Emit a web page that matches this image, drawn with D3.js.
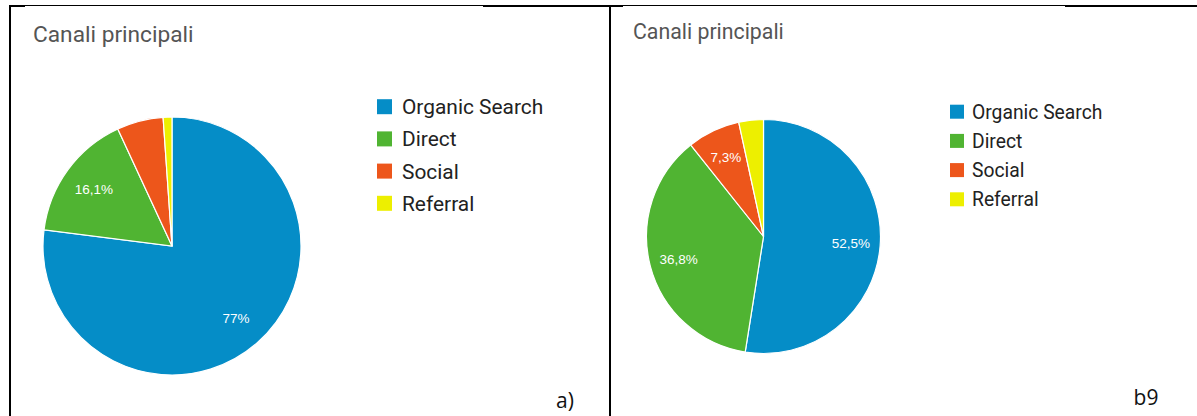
<!DOCTYPE html>
<html>
<head>
<meta charset="utf-8">
<script src="https://cdn.jsdelivr.net/npm/d3@7"></script>
<style>
  html, body { margin: 0; padding: 0; background: #fff; }
  svg { display: block; }
</style>
</head>
<body>
<svg id="chart" width="1197" height="416"></svg>
<script>
// ---- data ----
const categories = ["Organic Search", "Direct", "Social", "Referral"];
const colors = ["#058DC7", "#50B432", "#ED561B", "#EDEF00"];
const valuesA = [77, 16.1, 5.8, 1.1];
const valuesB = [52.5, 36.8, 7.3, 3.4];
const titles = ["Canali principali", "Canali principali"];
const captions = ["a)", "b9"];

// ---- layout ----
const panels = [
  { values: valuesA, title: titles[0], caption: captions[0],
    titleX: 33, titleY: 42, titleSize: 22.7,
    cx: 172, cy: 246, r: 129,
    legX: 377, legY0: 106.7, legStep: 32.2, legSq: 15, legTextX: 402, legSize: 20.9,
    capX: 565, capY: 408 },
  { values: valuesB, title: titles[1], caption: captions[1],
    titleX: 633, titleY: 39, titleSize: 21.3,
    cx: 763.5, cy: 236.5, r: 117,
    legX: 950, legY0: 111.7, legStep: 29.2, legSq: 14, legTextX: 972, legSize: 19.3,
    capX: 1146, capY: 405 }
];

const svg = d3.select("#chart");

// table borders
svg.append("rect").attr("x", 9).attr("y", 5).attr("width", 1197 - 9).attr("height", 2).attr("fill", "#000");
svg.append("rect").attr("x", 9).attr("y", 5).attr("width", 2).attr("height", 411).attr("fill", "#000");
svg.append("rect").attr("x", 609).attr("y", 5).attr("width", 2).attr("height", 411).attr("fill", "#000");
// image top edges overlaying the border (thinner)
[[25, 483], [623, 1065]].forEach(([x0, x1]) => {
  svg.append("rect").attr("x", x0).attr("y", 6).attr("width", x1 - x0).attr("height", 1).attr("fill", "#fff");
});

const pie = d3.pie().sort(null).value(d => d);

panels.forEach(p => {
  const g = svg.append("g");

  g.append("text")
    .attr("x", p.titleX).attr("y", p.titleY)
    .attr("font-family", "Roboto, Arial, sans-serif")
    .attr("font-size", p.titleSize)
    .attr("fill", "#555")
    .text(p.title);

  const arcs = pie(p.values);
  const arc = d3.arc().innerRadius(0).outerRadius(p.r);
  const labelArc = d3.arc().innerRadius(p.r * 0.75).outerRadius(p.r * 0.75);

  const pg = g.append("g").attr("transform", `translate(${p.cx},${p.cy})`);
  pg.selectAll("path").data(arcs).join("path")
    .attr("d", arc)
    .attr("fill", (d, i) => colors[i])
    .attr("stroke", "#fff")
    .attr("stroke-width", 1.2);

  pg.selectAll("text").data(arcs.filter(d => d.value >= 7)).join("text")
    .attr("transform", d => `translate(${labelArc.centroid(d)})`)
    .attr("text-anchor", "middle")
    .attr("dy", "0.36em")
    .attr("font-family", "Arial, 'Liberation Sans', sans-serif")
    .attr("font-size", 13.5)
    .attr("fill", "#fff")
    .text(d => String(d.value).replace(".", ",") + "%");

  const lg = g.append("g");
  categories.forEach((c, i) => {
    const y = p.legY0 + i * p.legStep;
    lg.append("rect")
      .attr("x", p.legX).attr("y", y - p.legSq / 2)
      .attr("width", p.legSq).attr("height", p.legSq)
      .attr("fill", colors[i]);
    lg.append("text")
      .attr("x", p.legTextX).attr("y", y)
      .attr("dy", "0.36em")
      .attr("font-family", "Roboto, Arial, sans-serif")
      .attr("font-size", p.legSize)
      .attr("fill", "#222")
      .text(c);
  });

  g.append("text")
    .attr("x", p.capX).attr("y", p.capY)
    .attr("text-anchor", "middle")
    .attr("font-family", "'Open Sans', 'DejaVu Sans', sans-serif")
    .attr("font-size", 21)
    .attr("fill", "#111")
    .text(p.caption);
});
</script>
</body>
</html>
